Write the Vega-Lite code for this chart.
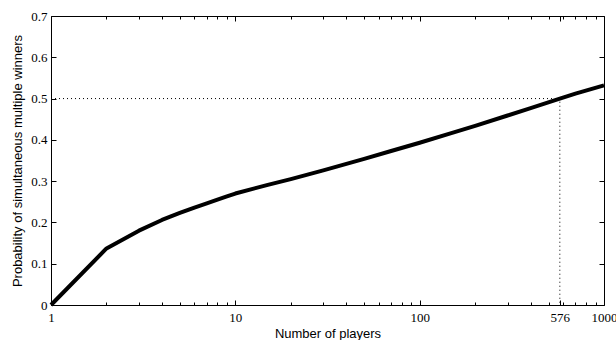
{
  "$schema": "https://vega.github.io/schema/vega-lite/v6.json",
  "width": 553,
  "height": 289,
  "autosize": {"type": "none"},
  "padding": {"left": 51, "top": 16, "right": 12, "bottom": 35},
  "background": "white",
  "config": {
    "view": {"stroke": "black", "strokeWidth": 1},
    "axis": {
      "grid": false,
      "domainColor": "black",
      "tickColor": "black",
      "labelColor": "black",
      "titleColor": "black",
      "labelFont": "Liberation Serif",
      "labelFontSize": 13,
      "titleFont": "Liberation Sans",
      "titleFontSize": 13,
      "titleFontWeight": "normal",
      "labelOverlap": false,
      "labelFlush": false
    }
  },
  "datasets": {
    "curve": [
      {"n": 1, "p": 0},
      {"n": 2, "p": 0.137},
      {"n": 3, "p": 0.18},
      {"n": 4, "p": 0.206},
      {"n": 5, "p": 0.223},
      {"n": 6, "p": 0.236},
      {"n": 7, "p": 0.246},
      {"n": 8, "p": 0.255},
      {"n": 9, "p": 0.263},
      {"n": 10, "p": 0.27},
      {"n": 15, "p": 0.291},
      {"n": 20, "p": 0.305},
      {"n": 30, "p": 0.326},
      {"n": 50, "p": 0.354},
      {"n": 70, "p": 0.373},
      {"n": 100, "p": 0.393},
      {"n": 150, "p": 0.417},
      {"n": 200, "p": 0.434},
      {"n": 300, "p": 0.459},
      {"n": 400, "p": 0.477},
      {"n": 576, "p": 0.5},
      {"n": 700, "p": 0.512},
      {"n": 1000, "p": 0.532}
    ],
    "guide": [
      {"n": 1, "p": 0.5, "o": 1},
      {"n": 576, "p": 0.5, "o": 2},
      {"n": 576, "p": 0, "o": 3}
    ]
  },
  "layer": [
    {
      "data": {"name": "guide"},
      "mark": {"type": "line", "color": "black", "strokeWidth": 1, "strokeDash": [1, 3]},
      "encoding": {
        "x": {
          "field": "n", "type": "quantitative",
          "scale": {"type": "log", "domain": [1, 1000], "nice": false},
          "axis": {
            "orient": "top", "title": null, "labels": false, "domain": false,
            "values": [1, 2, 3, 4, 5, 6, 7, 8, 9, 10, 20, 30, 40, 50, 60, 70, 80, 90, 100, 200, 300, 400, 500, 576, 600, 700, 800, 900, 1000],
            "tickSize": {"condition": {"test": "indexof([1,10,100,576,1000], datum.value) >= 0", "value": -5}, "value": -3}
          }
        },
        "y": {
          "field": "p", "type": "quantitative",
          "scale": {"domain": [0, 0.7], "nice": false, "zero": false},
          "axis": {
            "orient": "right", "title": null, "labels": false, "domain": false,
            "values": [0, 0.1, 0.2, 0.3, 0.4, 0.5, 0.6, 0.7],
            "tickSize": -5
          }
        },
        "order": {"field": "o"}
      }
    },
    {
      "data": {"name": "curve"},
      "mark": {"type": "line", "color": "black", "strokeWidth": 4, "strokeJoin": "round", "strokeCap": "butt"},
      "encoding": {
        "x": {
          "field": "n", "type": "quantitative",
          "scale": {"type": "log", "domain": [1, 1000], "nice": false},
          "axis": {
            "orient": "bottom", "title": "Number of players", "domain": false,
            "values": [1, 2, 3, 4, 5, 6, 7, 8, 9, 10, 20, 30, 40, 50, 60, 70, 80, 90, 100, 200, 300, 400, 500, 576, 600, 700, 800, 900, 1000],
            "format": "d",
            "labelExpr": "indexof([1,10,100,576,1000], datum.value) >= 0 ? datum.label : ''",
            "tickSize": {"condition": {"test": "indexof([1,10,100,576,1000], datum.value) >= 0", "value": -5}, "value": -3},
            "labelPadding": 11,
            "titlePadding": 1
          }
        },
        "y": {
          "field": "p", "type": "quantitative",
          "scale": {"domain": [0, 0.7], "nice": false, "zero": false},
          "axis": {
            "orient": "left", "title": "Probability of simultaneous multiple winners", "domain": false,
            "values": [0, 0.1, 0.2, 0.3, 0.4, 0.5, 0.6, 0.7],
            "format": "~g",
            "tickSize": -5,
            "labelPadding": 9,
            "titlePadding": 6
          }
        }
      }
    }
  ],
  "resolve": {"axis": {"x": "independent", "y": "independent"}}
}
